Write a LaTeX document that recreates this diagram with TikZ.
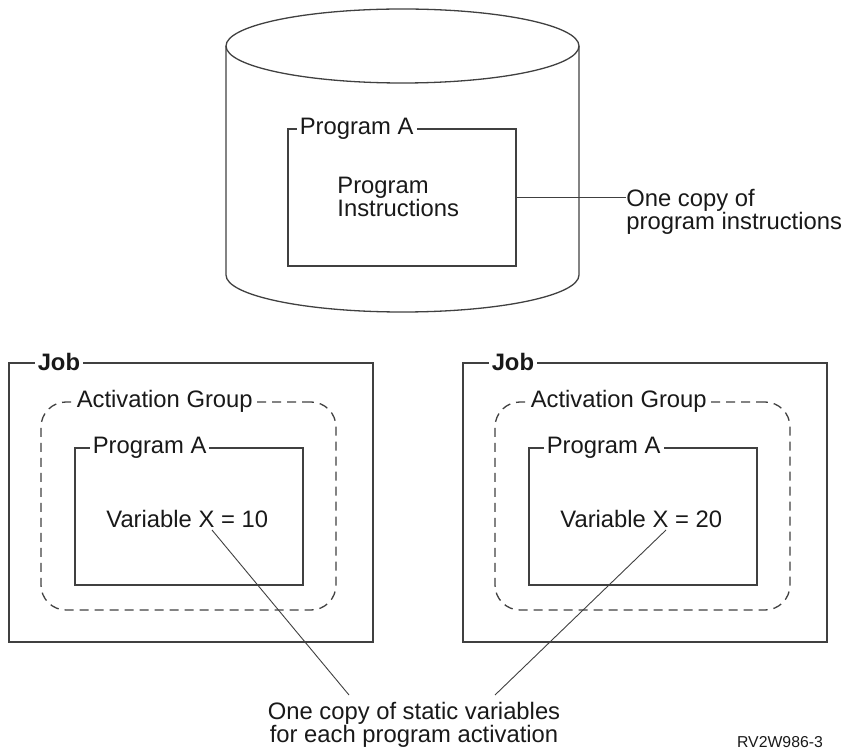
\documentclass[tikz,border=0pt]{standalone}
\usepackage{fontspec}
\setmainfont{Liberation Sans}
\usepackage{xcolor}
\colorlet{lineGray}{black!75}
\colorlet{textBlack}{black!90}

\begin{document}
\begin{tikzpicture}[x=0.5pt, y=-0.5pt,
    every node/.style={font=\fontsize{11.9}{11.5}\selectfont, text=textBlack},
    progBox/.style={draw=lineGray, line width=0.65pt, minimum width=114pt, minimum height=68.5pt, inner sep=0pt},
    jobBox/.style={draw=lineGray, line width=0.65pt, minimum width=182pt, minimum height=139.5pt, inner sep=0pt},
    groupBox/.style={draw=lineGray, line width=0.65pt, dash pattern=on 4.5pt off 3pt,
      rounded corners=12.5pt, minimum width=147.5pt, minimum height=104pt, inner sep=0pt},
    boxLabel/.style={anchor=west, fill=white, inner xsep=1.5pt, inner ysep=1pt},
    leader/.style={draw=lineGray, line width=0.45pt}]
  \useasboundingbox (0,0) rectangle (846,748);

  % disk holding the program
  \draw[lineGray, line width=0.65pt] (402.5,46) ellipse [x radius=88.25pt, y radius=18.5pt];
  \draw[lineGray, line width=0.65pt] (226,46) -- (226,275)
    arc [start angle=180, end angle=360, x radius=88.25pt, y radius=18.5pt] -- (579,46);

  \node[progBox] (progDisk) at (402,197.5) {};
  \node[boxLabel] (progDiskLbl) at ([xshift=4.5pt]progDisk.north west) {Program A\ };
  \node[anchor=north west, align=left, inner sep=0pt] (instr) at (337,177) {Program\\Instructions};
  \node[anchor=north west, align=left, inner sep=0pt] (oneCopy) at (626,189) {One copy of\\program instructions};
  \draw[leader] (progDisk.east) -- (progDisk.east -| oneCopy.west);

  % one job per activation
  \foreach \dx/\val/\s in {0/10/A, 454/20/B} {
    \begin{scope}[xshift=\dx*0.5pt]
      \node[jobBox] (job\s) at (191,502.5) {};
      \node[boxLabel, font=\fontsize{11.9}{11.5}\selectfont\bfseries] (jobLbl\s) at ([xshift=13pt]job\s.north west) {Job\ };
      \node[groupBox] (group\s) at (188.5,506) {};
      \node[boxLabel] (groupLbl\s) at ([xshift=16.5pt]group\s.north west) {Activation Group\ };
      \node[progBox] (prog\s) at (189,516.5) {};
      \node[boxLabel] (progLbl\s) at ([xshift=7.5pt]prog\s.north west) {Program A\ };
      \node[anchor=base west, inner sep=0pt] (var\s) at (106,527) {Variable X = \val};
      \coordinate (x\s) at (212,530);
    \end{scope}
  }

  \node[anchor=north, align=center, inner sep=0pt] (statNote) at (414,702)
    {One copy of static variables\\for each program activation};
  \coordinate (endA) at (349,695);
  \coordinate (endB) at (495,695);
  \draw[leader] (xA) -- (endA);
  \draw[leader] (xB) -- (endB);

  \node[anchor=base, inner sep=0pt, font=\fontsize{7.9}{9}\selectfont] (figId) at (780,747) {RV2W986-3};
\end{tikzpicture}
\end{document}
